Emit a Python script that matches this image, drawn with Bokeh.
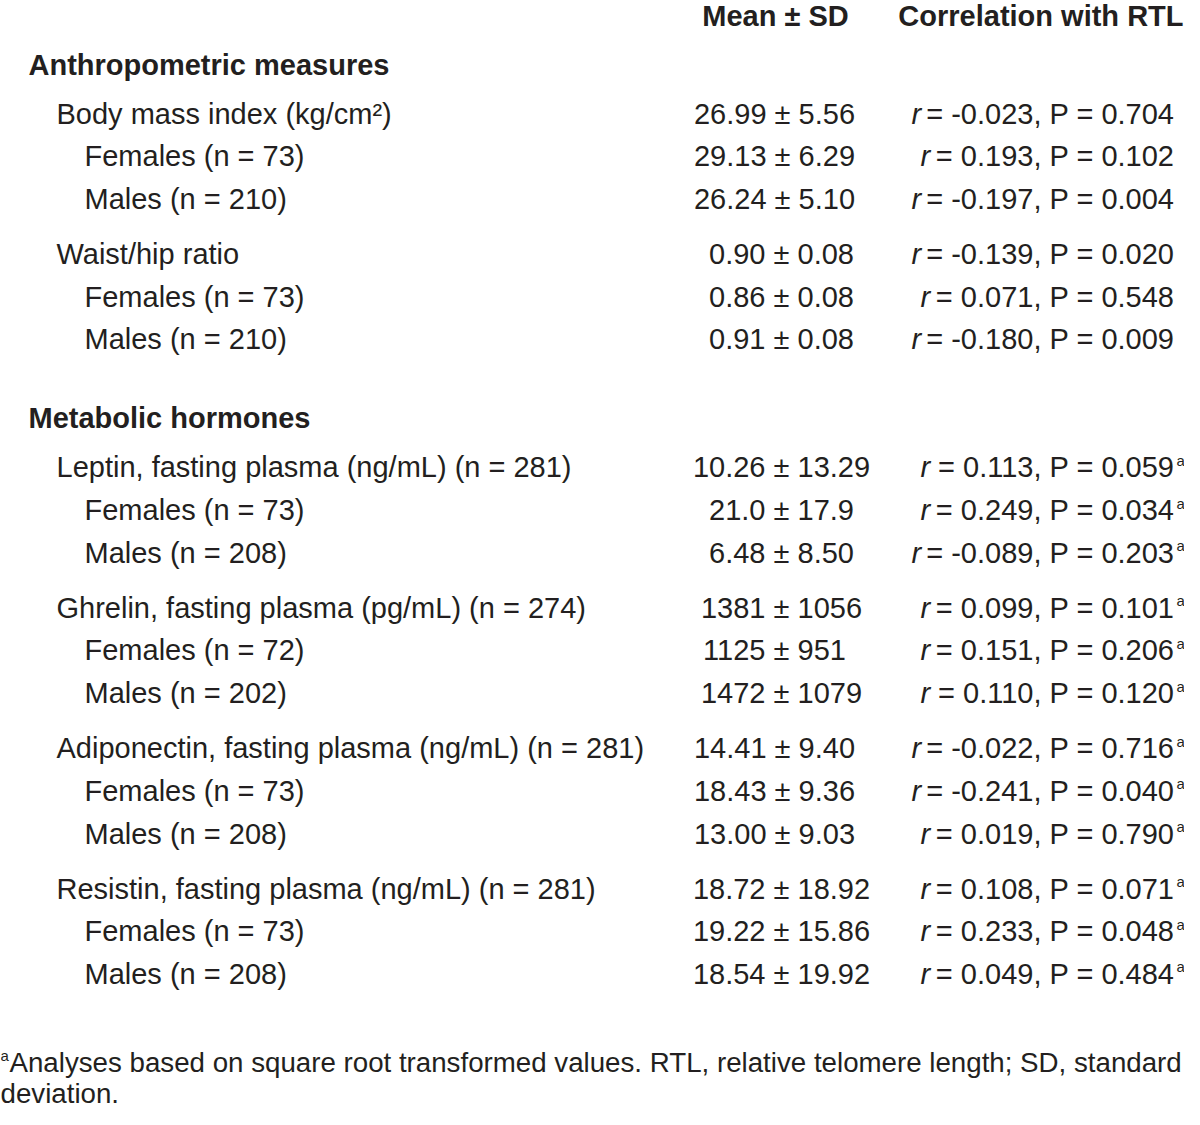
from bokeh.plotting import figure
from bokeh.models import Range1d
from bokeh.core.properties import value
from bokeh.embed import file_html
from bokeh.resources import INLINE

# ---------------- data ----------------
col_headers = ["Mean ± SD", "Correlation with RTL"]
sections = ["Anthropometric measures", "Metabolic hormones"]

row_labels = [
    "Body mass index (kg/cm²)", "Females (n = 73)", "Males (n = 210)",
    "Waist/hip ratio", "Females (n = 73)", "Males (n = 210)",
    "Leptin, fasting plasma (ng/mL) (n = 281)", "Females (n = 73)", "Males (n = 208)",
    "Ghrelin, fasting plasma (pg/mL) (n = 274)", "Females (n = 72)", "Males (n = 202)",
    "Adiponectin, fasting plasma (ng/mL) (n = 281)", "Females (n = 73)", "Males (n = 208)",
    "Resistin, fasting plasma (ng/mL) (n = 281)", "Females (n = 73)", "Males (n = 208)",
]
row_section = [0, 0, 0, 0, 0, 0, 1, 1, 1, 1, 1, 1, 1, 1, 1, 1, 1, 1]
row_level = [1, 2, 2, 1, 2, 2, 1, 2, 2, 1, 2, 2, 1, 2, 2, 1, 2, 2]
mean_values = ["26.99", "29.13", "26.24", "0.90", "0.86", "0.91",
               "10.26", "21.0", "6.48", "1381", "1125", "1472",
               "14.41", "18.43", "13.00", "18.72", "19.22", "18.54"]
sd_values = ["5.56", "6.29", "5.10", "0.08", "0.08", "0.08",
             "13.29", "17.9", "8.50", "1056", "951", "1079",
             "9.40", "9.36", "9.03", "18.92", "15.86", "19.92"]
r_values = ["-0.023", "0.193", "-0.197", "-0.139", "0.071", "-0.180",
            "0.113", "0.249", "-0.089", "0.099", "0.151", "0.110",
            "-0.022", "-0.241", "0.019", "0.108", "0.233", "0.049"]
p_values = ["0.704", "0.102", "0.004", "0.020", "0.548", "0.009",
            "0.059", "0.034", "0.203", "0.101", "0.206", "0.120",
            "0.716", "0.040", "0.790", "0.071", "0.048", "0.484"]
sqrt_transformed = [False] * 6 + [True] * 12
footnote_lines = [
    "Analyses based on square root transformed values. RTL, relative telomere length; SD, standard",
    "deviation.",
]

# ---------------- style / layout ----------------
FONT = "Liberation Sans"
INK = "#231f20"
FS = "29px"
W, H = 1184, 1109

p = figure(width=W, height=H, output_backend="svg", toolbar_location=None,
           x_range=Range1d(0, W), y_range=Range1d(H, 0),
           min_border=0, outline_line_color=None)
p.axis.visible = False
p.grid.visible = False
p.background_fill_color = "white"
p.border_fill_color = "white"

def txt(x, y, s, align="left", style="normal", size=FS):
    p.text(x=[x], y=[y], text=[s], text_font=value(FONT), text_font_size=size,
           text_font_style=style, text_color=INK, text_align=align,
           text_baseline="middle")

# column headers
txt(775, 15, col_headers[0], align="center", style="bold")
txt(1183, 15, col_headers[1], align="right", style="bold")

# row positions
SEC_X, L1_X, L2_X = 28, 56, 84
STEP, GROUP_GAP, SEC_TO_ROW, ROW_TO_SEC = 42.7, 55, 49, 79
sec_y = {}
row_y = []
y = 64
cur_sec = None
for i in range(len(row_labels)):
    s = row_section[i]
    if s != cur_sec:
        if cur_sec is not None:
            y = row_y[-1] + ROW_TO_SEC
        sec_y[s] = y
        y = y + SEC_TO_ROW
        cur_sec = s
    elif row_level[i] == 1:
        y = row_y[-1] + GROUP_GAP
    else:
        y = row_y[-1] + STEP
    row_y.append(y)

for s, name in enumerate(sections):
    txt(SEC_X, sec_y[s], name, style="bold")

CORR_RIGHT = 1174
for i, lab in enumerate(row_labels):
    yc = row_y[i]
    xl = L1_X if row_level[i] == 1 else L2_X
    txt(xl, yc, lab)
    ms = f"{mean_values[i]} ± {sd_values[i]}"
    mx = 781 if len(ms) % 2 else 774   # centred on a character grid, as in the source
    txt(mx, yc, ms, align="center")
    neg = r_values[i].startswith("-")
    xr = 911 if neg else 920
    txt(xr, yc, "r", style="italic")
    txt(CORR_RIGHT, yc, f"= {r_values[i]}, P = {p_values[i]}", align="right")
    if sqrt_transformed[i]:
        txt(1176, yc - 7, "a", size="15px")

# footnote
txt(0, 1055, "a", size="15px")
txt(9, 1062, footnote_lines[0], size="27.7px")
txt(0, 1093, footnote_lines[1], size="27.7px")

open("out.html", "w").write(file_html(p, INLINE))
